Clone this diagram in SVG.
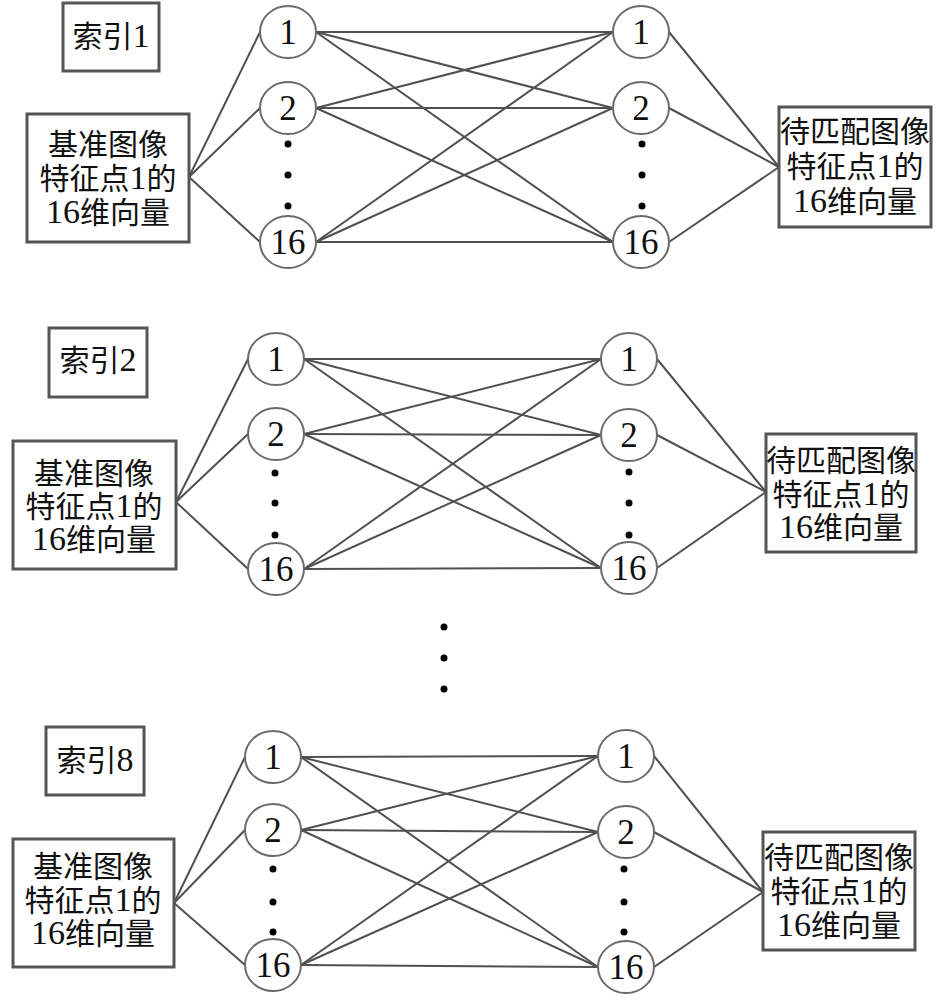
<svg xmlns="http://www.w3.org/2000/svg" width="945" height="998" viewBox="0 0 945 998">
<style>
.box{fill:#fff;stroke:#555;stroke-width:3}
.nd{fill:#fff;stroke:#6a6a6a;stroke-width:2}
.t{font-family:"Liberation Serif","Noto Sans CJK SC",serif;font-size:30px;fill:#111;text-anchor:middle}
.d{font-size:34px}
.n{font-family:"Liberation Serif",serif;font-size:35px;fill:#111;text-anchor:middle}
.ln{stroke:#505050;stroke-width:2;fill:none}
.dot{fill:#000}
</style>
<rect width="945" height="998" fill="#fff"/>

<!-- connectors -->
<g id="connectors">
  <!-- block 1 -->
  <g class="ln">
    <line x1="189" y1="177" x2="260" y2="32"/>
    <line x1="189" y1="177" x2="260" y2="108"/>
    <line x1="189" y1="177" x2="260" y2="242"/>
    <line x1="316" y1="32" x2="613" y2="32"/>
    <line x1="316" y1="32" x2="613" y2="108"/>
    <line x1="316" y1="32" x2="613" y2="242"/>
    <line x1="316" y1="108" x2="613" y2="32"/>
    <line x1="316" y1="108" x2="613" y2="108"/>
    <line x1="316" y1="108" x2="613" y2="242"/>
    <line x1="316" y1="242" x2="613" y2="32"/>
    <line x1="316" y1="242" x2="613" y2="108"/>
    <line x1="316" y1="242" x2="613" y2="242"/>
    <line x1="669" y1="32" x2="779" y2="167"/>
    <line x1="669" y1="108" x2="779" y2="167"/>
    <line x1="669" y1="242" x2="779" y2="167"/>
  </g>
  <!-- block 2 -->
  <g class="ln">
    <line x1="176" y1="502" x2="248" y2="359"/>
    <line x1="176" y1="502" x2="248" y2="434"/>
    <line x1="176" y1="502" x2="248" y2="569"/>
    <line x1="304" y1="359" x2="601" y2="359"/>
    <line x1="304" y1="359" x2="601" y2="435"/>
    <line x1="304" y1="359" x2="601" y2="568"/>
    <line x1="304" y1="434" x2="601" y2="359"/>
    <line x1="304" y1="434" x2="601" y2="435"/>
    <line x1="304" y1="434" x2="601" y2="568"/>
    <line x1="304" y1="569" x2="601" y2="359"/>
    <line x1="304" y1="569" x2="601" y2="435"/>
    <line x1="304" y1="569" x2="601" y2="568"/>
    <line x1="657" y1="359" x2="766" y2="492"/>
    <line x1="657" y1="435" x2="766" y2="492"/>
    <line x1="657" y1="568" x2="766" y2="492"/>
  </g>
  <!-- block 3 -->
  <g class="ln">
    <line x1="174" y1="903" x2="245" y2="757"/>
    <line x1="174" y1="903" x2="245" y2="830"/>
    <line x1="174" y1="903" x2="245" y2="965"/>
    <line x1="301" y1="757" x2="598" y2="756"/>
    <line x1="301" y1="757" x2="598" y2="832"/>
    <line x1="301" y1="757" x2="598" y2="967"/>
    <line x1="301" y1="830" x2="598" y2="756"/>
    <line x1="301" y1="830" x2="598" y2="832"/>
    <line x1="301" y1="830" x2="598" y2="967"/>
    <line x1="301" y1="965" x2="598" y2="756"/>
    <line x1="301" y1="965" x2="598" y2="832"/>
    <line x1="301" y1="965" x2="598" y2="967"/>
    <line x1="654" y1="756" x2="763" y2="892"/>
    <line x1="654" y1="832" x2="763" y2="892"/>
    <line x1="654" y1="967" x2="763" y2="892"/>
  </g>
</g>

<!-- block 1 nodes -->
<g id="idx1"><rect class="box" x="63" y="3" width="96" height="68"/><text class="t" x="111" y="47">索引<tspan class="d">1</tspan></text></g>
<g id="ref1"><rect class="box" x="27" y="114" width="162" height="128"/>
  <text class="t" x="108" y="155">基准图像</text><text class="t" x="108" y="189">特征点<tspan class="d">1</tspan>的</text><text class="t" x="108" y="223"><tspan class="d">16</tspan>维向量</text></g>
<g id="b1L1"><ellipse class="nd" cx="288" cy="32" rx="28" ry="26"/><text class="n" x="288" y="44">1</text></g>
<g id="b1L2"><ellipse class="nd" cx="288" cy="108" rx="28" ry="26"/><text class="n" x="288" y="120">2</text></g>
<g id="b1L16"><ellipse class="nd" cx="288" cy="242" rx="28" ry="26"/><text class="n" x="288" y="254">16</text></g>
<g id="b1Ldots" class="dot"><circle cx="288" cy="144" r="3.5"/><circle cx="288" cy="175" r="3.5"/><circle cx="288" cy="206" r="3.5"/></g>
<g id="b1R1"><ellipse class="nd" cx="641" cy="32" rx="28" ry="26"/><text class="n" x="641" y="44">1</text></g>
<g id="b1R2"><ellipse class="nd" cx="641" cy="108" rx="28" ry="26"/><text class="n" x="641" y="120">2</text></g>
<g id="b1R16"><ellipse class="nd" cx="641" cy="242" rx="28" ry="26"/><text class="n" x="641" y="254">16</text></g>
<g id="b1Rdots" class="dot"><circle cx="642" cy="144" r="3.5"/><circle cx="642" cy="175" r="3.5"/><circle cx="642" cy="206" r="3.5"/></g>
<g id="tgt1"><rect class="box" x="779" y="107" width="152" height="120"/>
  <text class="t" x="855" y="142">待匹配图像</text><text class="t" x="855" y="177">特征点<tspan class="d">1</tspan>的</text><text class="t" x="855" y="212"><tspan class="d">16</tspan>维向量</text></g>

<!-- block 2 nodes -->
<g id="idx2"><rect class="box" x="49" y="328" width="98" height="69"/><text class="t" x="98" y="371">索引<tspan class="d">2</tspan></text></g>
<g id="ref2"><rect class="box" x="13" y="441" width="163" height="128"/>
  <text class="t" x="94" y="484">基准图像</text><text class="t" x="94" y="517">特征点<tspan class="d">1</tspan>的</text><text class="t" x="94" y="550"><tspan class="d">16</tspan>维向量</text></g>
<g id="b2L1"><ellipse class="nd" cx="276" cy="359" rx="28" ry="26"/><text class="n" x="276" y="371">1</text></g>
<g id="b2L2"><ellipse class="nd" cx="276" cy="434" rx="28" ry="26"/><text class="n" x="276" y="446">2</text></g>
<g id="b2L16"><ellipse class="nd" cx="276" cy="569" rx="28" ry="26"/><text class="n" x="276" y="581">16</text></g>
<g id="b2Ldots" class="dot"><circle cx="275" cy="473" r="3.5"/><circle cx="275" cy="503" r="3.5"/><circle cx="275" cy="535" r="3.5"/></g>
<g id="b2R1"><ellipse class="nd" cx="629" cy="359" rx="28" ry="26"/><text class="n" x="629" y="371">1</text></g>
<g id="b2R2"><ellipse class="nd" cx="629" cy="435" rx="28" ry="26"/><text class="n" x="629" y="447">2</text></g>
<g id="b2R16"><ellipse class="nd" cx="629" cy="568" rx="28" ry="26"/><text class="n" x="629" y="580">16</text></g>
<g id="b2Rdots" class="dot"><circle cx="629" cy="472" r="3.5"/><circle cx="629" cy="503" r="3.5"/><circle cx="629" cy="535" r="3.5"/></g>
<g id="tgt2"><rect class="box" x="766" y="434" width="150" height="118"/>
  <text class="t" x="841" y="471">待匹配图像</text><text class="t" x="841" y="505">特征点<tspan class="d">1</tspan>的</text><text class="t" x="841" y="538"><tspan class="d">16</tspan>维向量</text></g>

<!-- middle ellipsis -->
<g id="midDots" class="dot"><circle cx="444" cy="627" r="3.5"/><circle cx="444" cy="658" r="3.5"/><circle cx="444" cy="689" r="3.5"/></g>

<!-- block 3 nodes -->
<g id="idx8"><rect class="box" x="46" y="727" width="98" height="68"/><text class="t" x="95" y="771">索引<tspan class="d">8</tspan></text></g>
<g id="ref8"><rect class="box" x="13" y="839" width="161" height="128"/>
  <text class="t" x="93" y="877">基准图像</text><text class="t" x="93" y="911">特征点<tspan class="d">1</tspan>的</text><text class="t" x="93" y="944"><tspan class="d">16</tspan>维向量</text></g>
<g id="b3L1"><ellipse class="nd" cx="273" cy="757" rx="28" ry="26"/><text class="n" x="273" y="769">1</text></g>
<g id="b3L2"><ellipse class="nd" cx="273" cy="830" rx="28" ry="26"/><text class="n" x="273" y="842">2</text></g>
<g id="b3L16"><ellipse class="nd" cx="273" cy="965" rx="28" ry="26"/><text class="n" x="273" y="977">16</text></g>
<g id="b3Ldots" class="dot"><circle cx="273" cy="869" r="3.5"/><circle cx="273" cy="902" r="3.5"/><circle cx="273" cy="932" r="3.5"/></g>
<g id="b3R1"><ellipse class="nd" cx="626" cy="756" rx="28" ry="26"/><text class="n" x="626" y="768">1</text></g>
<g id="b3R2"><ellipse class="nd" cx="626" cy="832" rx="28" ry="26"/><text class="n" x="626" y="844">2</text></g>
<g id="b3R16"><ellipse class="nd" cx="626" cy="967" rx="28" ry="26"/><text class="n" x="626" y="979">16</text></g>
<g id="b3Rdots" class="dot"><circle cx="624" cy="869" r="3.5"/><circle cx="624" cy="902" r="3.5"/><circle cx="624" cy="932" r="3.5"/></g>
<g id="tgt8"><rect class="box" x="763" y="832" width="152" height="118"/>
  <text class="t" x="839" y="868">待匹配图像</text><text class="t" x="839" y="902">特征点<tspan class="d">1</tspan>的</text><text class="t" x="839" y="936"><tspan class="d">16</tspan>维向量</text></g>
</svg>
